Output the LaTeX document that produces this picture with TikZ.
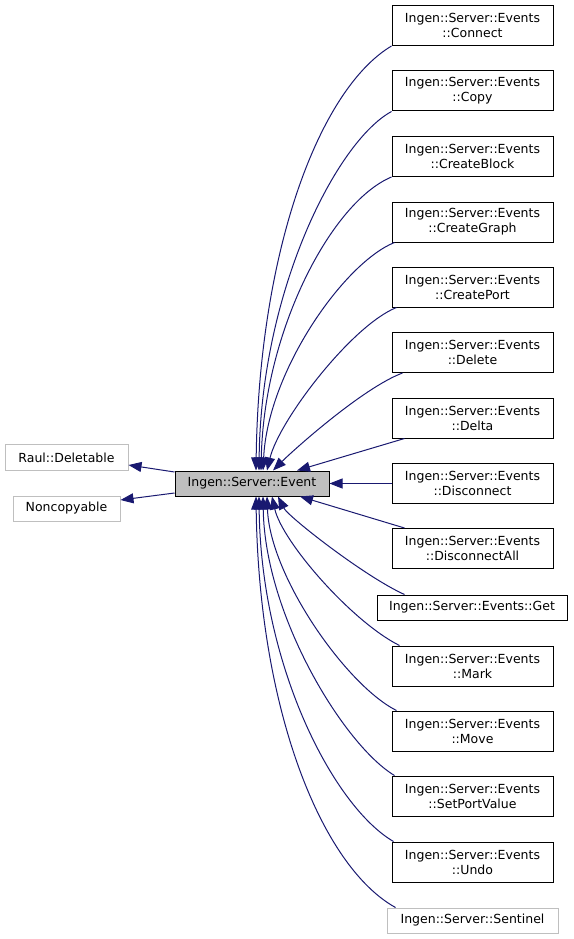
\documentclass[tikz,border=0pt]{standalone}
\usepackage{fontspec}
\setmainfont{DejaVu Sans}
\usetikzlibrary{arrows.meta,calc}
\definecolor{edgeblue}{HTML}{191970}
\definecolor{boxgray}{HTML}{BFBFBF}
\begin{document}
\begin{tikzpicture}[x=1pt,y=-1pt]
	\tikzset{cls/.style={draw=black, line width=1pt, rectangle, inner sep=2pt, align=center,
			minimum width=161pt, minimum height=40pt, font=\fontsize{12.5}{15}\selectfont},
		ext/.style={cls, draw=boxgray},
		inh/.style={draw=edgeblue, line width=1pt, -{Triangle[length=13pt,width=10pt]}, edgeblue}}

	\useasboundingbox (0,0) rectangle (573,939);

	% Base class and its parents
	\node[cls, fill=boxgray, minimum width=154pt, minimum height=25pt] (ev) at (252,483.5) {Ingen::Server::Event};
	\node[ext, minimum width=123pt, minimum height=26pt] (del) at (66.5,457.5) {Raul::Deletable};
	\node[ext, minimum width=107pt, minimum height=25pt] (nc) at (66.5,508.5) {Noncopyable};

	% Derived events, right column
	\node[cls] (connect) at (472.5,25.5) {Ingen::Server::Events\\::Connect};
	\node[cls] (copy) at (472.5,91) {Ingen::Server::Events\\::Copy};
	\node[cls] (block) at (472.5,156.5) {Ingen::Server::Events\\::CreateBlock};
	\node[cls] (graph) at (472.5,222) {Ingen::Server::Events\\::CreateGraph};
	\node[cls] (port) at (472.5,287) {Ingen::Server::Events\\::CreatePort};
	\node[cls] (delete) at (472.5,352.5) {Ingen::Server::Events\\::Delete};
	\node[cls] (delta) at (472.5,418) {Ingen::Server::Events\\::Delta};
	\node[cls] (disc) at (472.5,483.5) {Ingen::Server::Events\\::Disconnect};
	\node[cls] (discall) at (472.5,548.5) {Ingen::Server::Events\\::DisconnectAll};
	\node[cls, minimum width=190pt, minimum height=25pt] (get) at (472,607.5) {Ingen::Server::Events::Get};
	\node[cls] (mark) at (472.5,666) {Ingen::Server::Events\\::Mark};
	\node[cls] (move) at (472.5,731) {Ingen::Server::Events\\::Move};
	\node[cls] (setpv) at (472.5,796) {Ingen::Server::Events\\::SetPortValue};
	\node[cls] (undo) at (472.5,862) {Ingen::Server::Events\\::Undo};
	\node[ext, minimum width=171pt, minimum height=25pt] (sent) at (472.5,920.5) {Ingen::Server::Sentinel};

	% Event -> parents
	\draw[inh] ($(ev.west)+(0,-11.5)$) -- ($(del.east)+(0,7.5)$);
	\draw[inh] ($(ev.west)+(0,9.5)$) -- ($(nc.east)+(0,-8.5)$);

	% Upper children -> top of Event
	\draw[inh] (connect.south west) .. controls +(-72,43) and +(3,-221) .. ([xshift=4pt]ev.north);
	\draw[inh] (copy.south west) .. controls +(-55,30) and +(2,-180) .. ([xshift=7pt]ev.north);
	\draw[inh] (block.south west) .. controls +(-60,25) and +(3,-140) .. ([xshift=9pt]ev.north);
	\draw[inh] ([xshift=3pt]graph.south west) .. controls +(-50,20) and +(5,-100) .. ([xshift=11pt]ev.north);
	\draw[inh] ([xshift=5pt]port.south west) .. controls +(-45,18) and +(12,-50) .. ([xshift=15pt]ev.north);
	\draw[inh] ([xshift=11pt]delete.south west) .. controls +(-40,15) and +(20,-20) .. ([xshift=21pt]ev.north);
	\draw[inh] ([xshift=13pt]delta.south west) -- ([xshift=45pt]ev.north);

	% Side child
	\draw[inh] (disc.west) -- (ev.east);

	% Lower children -> bottom of Event
	\draw[inh] ([xshift=13pt]discall.north west) -- ([xshift=48pt]ev.south);
	\draw[inh] ([xshift=28pt]get.north west) .. controls +(-40,-18) and +(10,20) .. ([xshift=26pt]ev.south);
	\draw[inh] ([xshift=8pt]mark.north west) .. controls +(-48,-24) and +(10,45) .. ([xshift=20pt]ev.south);
	\draw[inh] ([xshift=5pt]move.north west) .. controls +(-50,-25) and +(3,80) .. ([xshift=15pt]ev.south);
	\draw[inh] ([xshift=3pt]setpv.north west) .. controls +(-50,-30) and +(2,120) .. ([xshift=11pt]ev.south);
	\draw[inh] ([xshift=2pt]undo.north west) .. controls +(-60,-35) and +(2,170) .. ([xshift=7pt]ev.south);
	\draw[inh] ([xshift=9pt]sent.north west) .. controls +(-74,-41) and +(3,214) .. ([xshift=4pt]ev.south);
\end{tikzpicture}
\end{document}
